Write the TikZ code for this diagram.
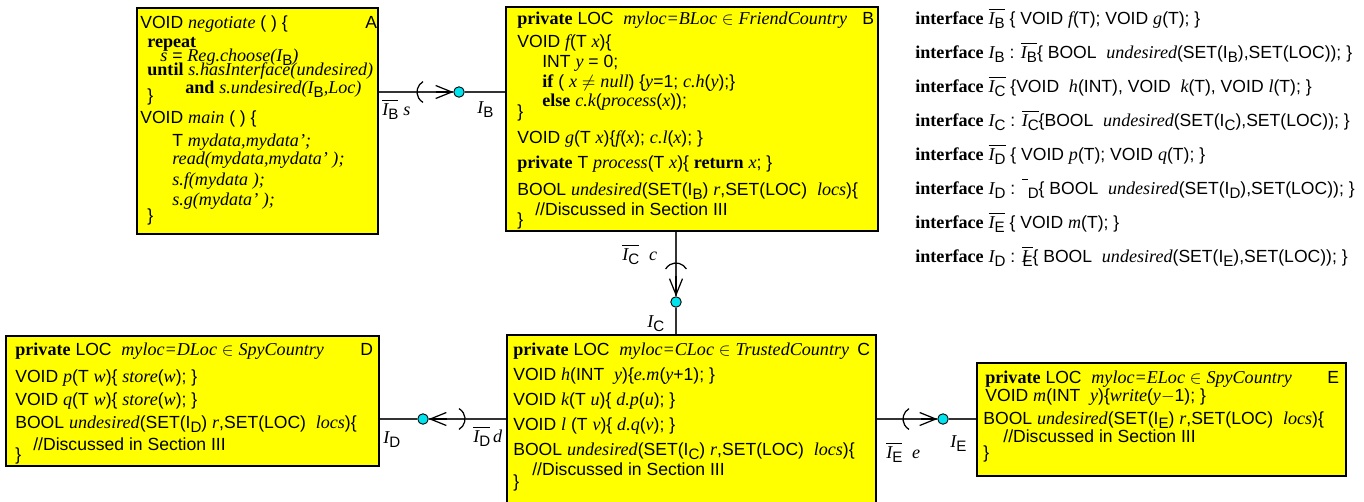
\documentclass[tikz,border=0pt]{standalone}
\usepackage{fontspec}
\setmainfont[Scale=1.03]{Liberation Serif}
\setsansfont{Liberation Sans}
\usetikzlibrary{positioning,calc,arrows.meta}

\definecolor{boxyellow}{RGB}{255,255,0}
\definecolor{ballcyan}{RGB}{0,228,238}

% code fonts
\newcommand{\kwd}[1]{{\rmfamily\bfseries #1}}
\newcommand{\idn}[1]{{\rmfamily\itshape #1}}
\newcommand{\sbs}[1]{\raisebox{-0.45ex}{\sffamily\upshape\mdseries\fontsize{8.6}{8}\selectfont #1}}
\newcommand{\Isb}[1]{\idn{I}\sbs{#1}}
\newcommand{\Ibr}[1]{$\overline{\hbox{\Isb{#1}}}$}
\newcommand{\Ssb}[1]{I\sbs{#1}}

\begin{document}
\begin{tikzpicture}[x=0.02cm, y=-0.02cm,
    compbox/.style={rectangle, draw=black, line width=0.9pt, fill=boxyellow, anchor=north west, inner sep=0pt},
    code/.style={anchor=base west, inner sep=0pt, font=\sffamily\fontsize{10}{12}\selectfont},
    ball/.style={circle, draw=black, line width=0.5pt, fill=ballcyan, minimum size=0.21cm, inner sep=0pt},
    wire/.style={draw=black!80, line width=0.6pt},
    barb/.style={-{Straight Barb[length=0.32cm, width=0.26cm]}, line width=0.7pt},
    socket/.style={line width=0.7pt}
]
\useasboundingbox (0,0) rectangle (1364,501);

% Components
\node[compbox, minimum width=4.82cm, minimum height=4.52cm] (A) at (136,7) {};
\node[compbox, minimum width=7.44cm, minimum height=4.48cm] (B) at (505,6) {};
\node[compbox, minimum width=7.46cm, minimum height=2.60cm] (D) at (5,335) {};
\node[compbox, minimum width=7.38cm, minimum height=3.60cm] (C) at (506,334) {};
\node[compbox, minimum width=7.38cm, minimum height=2.26cm] (E) at (976,362) {};

% Component A
\node[code] (nameA) at (365,28) {A};
\node[code] (a1) at (140,28) {VOID \idn{negotiate} ( ) \{};
\node[code] (a2) at (147,47) {\kwd{repeat}};
\node[code] (a3) at (160,61) {\idn{s} = \idn{Reg.choose(}\Isb{B}\idn{)}};
\node[code] (a4) at (147,75) {\kwd{until} \idn{s.hasInterface(undesired)}};
\node[code] (a5) at (185,93) {\kwd{and} \idn{s.undesired(}\Isb{B}\idn{,Loc)}};
\node[code] (a6) at (147,101) {\}};
\node[code] (a7) at (140,123) {VOID \idn{main} ( ) \{};
\node[code] (a8) at (172,146) {T \idn{mydata,mydata';}};
\node[code] (a9) at (172,164) {\idn{read(mydata,mydata' );}};
\node[code] (a10) at (172,185) {\idn{s.f(mydata );}};
\node[code] (a11) at (172,205) {\idn{s.g(mydata' );}};
\node[code] (a12) at (147,221) {\}};

% Component B
\node[code] (nameB) at (862,24) {B};
\node[code] (b1) at (517,24) {\kwd{private} LOC~ \idn{myloc=BLoc} $\in$ \idn{FriendCountry}};
\node[code] (b2) at (517,47) {VOID \idn{f}(T \idn{x})\{};
\node[code] (b3) at (542,67) {INT \idn{y} = 0;};
\node[code] (b4) at (542,87) {\kwd{if} ( \idn{x} $\neq$ \idn{null}) \{\idn{y}=1; \idn{c.h}(\idn{y});\}};
\node[code] (b5) at (542,106) {\kwd{else} \idn{c.k}(\idn{process}(\idn{x}));};
\node[code] (b6) at (517,117) {\}};
\node[code] (b7) at (517,143) {VOID \idn{g}(T \idn{x})\{\idn{f}(\idn{x}); \idn{c.l}(\idn{x}); \}};
\node[code] (b8) at (517,168) {\kwd{private} T \idn{process}(T \idn{x})\{ \kwd{return} \idn{x}; \}};
\node[code] (b9) at (517,195) {BOOL \idn{undesired}(SET(\Ssb{B}) \idn{r},SET(LOC)~ \idn{locs})\{};
\node[code] (b10) at (535,215) {//Discussed in Section III};
\node[code] (b11) at (517,225) {\}};

% Component C
\node[code] (nameC) at (857,355) {C};
\node[code] (c1) at (513,355) {\kwd{private} LOC~ \idn{myloc=CLoc} $\in$ \idn{TrustedCountry}};
\node[code] (c2) at (513,380) {VOID \idn{h}(INT~ \idn{y})\{\idn{e.m}(\idn{y}+1); \}};
\node[code] (c3) at (513,405) {VOID \idn{k}(T \idn{u})\{ \idn{d.p}(\idn{u}); \}};
\node[code] (c4) at (513,430) {VOID \idn{l} (T \idn{v})\{ \idn{d.q}(\idn{v}); \}};
\node[code] (c5) at (513,455) {BOOL \idn{undesired}(SET(\Ssb{C}) \idn{r},SET(LOC)~ \idn{locs})\{};
\node[code] (c6) at (532,475) {//Discussed in Section III};
\node[code] (c7) at (513,487) {\}};

% Component D
\node[code] (nameD) at (360,355) {D};
\node[code] (d1) at (15,355) {\kwd{private} LOC~ \idn{myloc=DLoc} $\in$ \idn{SpyCountry}};
\node[code] (d2) at (15,382) {VOID \idn{p}(T \idn{w})\{ \idn{store}(\idn{w}); \}};
\node[code] (d3) at (15,405) {VOID \idn{q}(T \idn{w})\{ \idn{store}(\idn{w}); \}};
\node[code] (d4) at (15,428) {BOOL \idn{undesired}(SET(\Ssb{D}) \idn{r},SET(LOC)~ \idn{locs})\{};
\node[code] (d5) at (33,450) {//Discussed in Section III};
\node[code] (d6) at (15,460) {\}};

% Component E
\node[code] (nameE) at (1327,383) {E};
\node[code] (e1) at (985,383) {\kwd{private} LOC~ \idn{myloc=ELoc} $\in$ \idn{SpyCountry}};
\node[code] (e2) at (985,401) {VOID \idn{m}(INT~ \idn{y})\{\idn{write}(\idn{y}$-$1); \}};
\node[code] (e3) at (983,424) {BOOL \idn{undesired}(SET(\Ssb{E}) \idn{r},SET(LOC)~ \idn{locs})\{};
\node[code] (e4) at (1003,442) {//Discussed in Section III};
\node[code] (e5) at (983,458) {\}};

% Interfaces
\node[code] (if1) at (915,24) {\kwd{interface} \Ibr{B} \{ VOID \idn{f}(T); VOID \idn{g}(T); \}};
\node[code] (if2) at (915,58) {\kwd{interface} \Isb{B} : \Ibr{B}\{ BOOL~ \idn{undesired}(SET(\Ssb{B}),SET(LOC)); \}};
\node[code] (if3) at (915,92) {\kwd{interface} \Ibr{C} \{VOID~ \idn{h}(INT), VOID~ \idn{k}(T), VOID \idn{l}(T); \}};
\node[code] (if4) at (915,126) {\kwd{interface} \Isb{C} : \Ibr{C}\{BOOL~ \idn{undesired}(SET(\Ssb{C}),SET(LOC)); \}};
\node[code] (if5) at (915,160) {\kwd{interface} \Ibr{D} \{ VOID \idn{p}(T); VOID \idn{q}(T); \}};
\node[code] (if6) at (915,194) {\kwd{interface} \Isb{D} : $\overline{\phantom{\hbox{\idn{I}}}}$\sbs{D}\{ BOOL~ \idn{undesired}(SET(\Ssb{D}),SET(LOC)); \}};
\node[code] (if7) at (915,228) {\kwd{interface} \Ibr{E} \{ VOID \idn{m}(T); \}};
\node[code] (if8) at (915,262) {\kwd{interface} \Isb{D} : $\overline{\hbox{\idn{I}\kern-0.3em\sbs{E}}}$\{ BOOL~ \idn{undesired}(SET(\Ssb{E}),SET(LOC)); \}};

% Provided ports
\node[ball] (ballB) at (459,92) {};
\node[ball] (ballC) at (676,302) {};
\node[ball] (ballD) at (423,419) {};
\node[ball] (ballE) at (943,419) {};

% Sockets
\coordinate (sockB) at ([xshift=-0.6cm]ballB.center);
\coordinate (sockC) at ([yshift=0.54cm]ballC.center);
\coordinate (sockD) at ([xshift=0.6cm]ballD.center);
\coordinate (sockE) at ([xshift=-0.56cm]ballE.center);

% Wires
\draw[wire] (ballB -| A.east) -- (ballB.west);
\draw[wire] (ballB.east) -- (ballB -| B.west);
\draw[wire] (ballC |- B.south) -- (ballC.north);
\draw[wire] (ballC.south) -- (ballC |- C.north);
\draw[wire] (ballD -| D.east) -- (ballD.west);
\draw[wire] (ballD.east) -- (ballD -| C.west);
\draw[wire] (ballE -| C.east) -- (ballE.west);
\draw[wire] (ballE.east) -- (ballE -| E.west);

\draw[socket] ([shift={(120:0.24cm)}]sockB) arc[start angle=120, end angle=240, radius=0.24cm];
\draw[socket] ([shift={(30:0.24cm)}]sockC) arc[start angle=30, end angle=150, radius=0.24cm];
\draw[socket] ([shift={(-60:0.24cm)}]sockD) arc[start angle=-60, end angle=60, radius=0.24cm];
\draw[socket] ([shift={(120:0.24cm)}]sockE) arc[start angle=120, end angle=240, radius=0.24cm];

\draw[barb] ([xshift=-0.34cm]ballB.west) -- (ballB.west);
\draw[barb] ([yshift=0.4cm]ballC.north) -- (ballC.north);
\draw[barb] ([xshift=0.36cm]ballD.east) -- (ballD.east);
\draw[barb] ([xshift=-0.32cm]ballE.west) -- (ballE.west);

% Port labels
\node[code] (lblBbar) at (382,115) {\Ibr{B} \idn{s}};
\node[code] (lblB) at (477,113) {\Isb{B}};
\node[code] (lblCbar) at (622,260) {\Ibr{C}~~\idn{c}};
\node[code] (lblC) at (647,327) {\Isb{C}};
\node[code] (lblD) at (383,443) {\Isb{D}};
\node[code] (lblDbar) at (473,442) {\Ibr{D}\,\idn{d}};
\node[code] (lblEbar) at (886,458) {\Ibr{E}~~\idn{e}};
\node[code] (lblE) at (950,447) {\Isb{E}};

\end{tikzpicture}
\end{document}
